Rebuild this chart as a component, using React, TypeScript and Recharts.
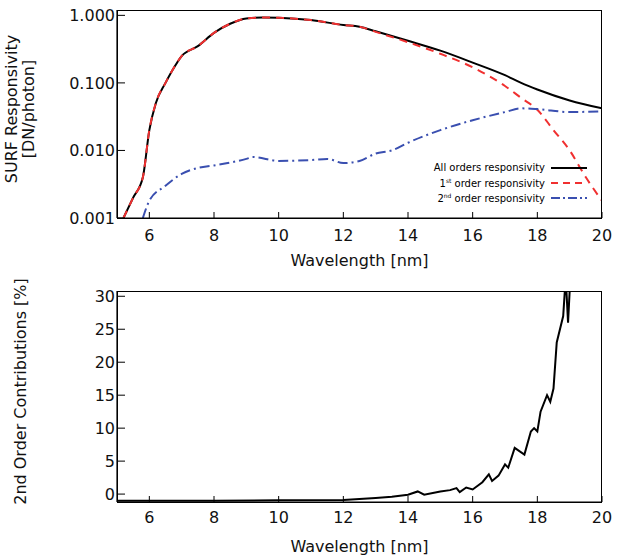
import React from 'react';
import { LineChart, Line, XAxis, YAxis } from 'recharts';

const allX = [5.2, 5.5, 5.8, 6, 6.2, 6.5, 6.7, 7, 7.5, 8, 8.5, 9, 9.5, 10, 11, 12, 12.5, 13, 14, 15, 16, 17, 17.5, 18, 19, 20];
const allY = [0.001, 0.002, 0.004, 0.02, 0.05, 0.1, 0.15, 0.25, 0.35, 0.55, 0.75, 0.9, 0.93, 0.92, 0.85, 0.72, 0.68, 0.58, 0.42, 0.3, 0.2, 0.13, 0.1, 0.08, 0.055, 0.042];
const firstX = [5.2, 5.5, 5.8, 6, 6.2, 6.5, 6.7, 7, 7.5, 8, 8.5, 9, 9.5, 10, 11, 12, 12.5, 13, 14, 15, 16, 17, 17.5, 18, 18.5, 19, 19.5, 20];
const firstY = [0.001, 0.002, 0.004, 0.02, 0.05, 0.1, 0.15, 0.25, 0.35, 0.55, 0.75, 0.9, 0.93, 0.92, 0.85, 0.72, 0.68, 0.57, 0.4, 0.27, 0.17, 0.09, 0.06, 0.04, 0.02, 0.01, 0.004, 0.0018];
const secondX = [5.8, 6, 6.5, 7, 7.5, 8, 9, 9.2, 10, 11, 11.5, 12, 12.5, 13, 13.5, 14, 15, 16, 17, 17.5, 18, 19, 20];
const secondY = [0.001, 0.0018, 0.003, 0.0045, 0.0055, 0.006, 0.0075, 0.008, 0.007, 0.0072, 0.0075, 0.0065, 0.007, 0.009, 0.01, 0.013, 0.02, 0.028, 0.037, 0.042, 0.041, 0.037, 0.038];
const contribX = [5, 8, 10, 12, 13, 13.5, 14, 14.3, 14.5, 15, 15.3, 15.5, 15.6, 15.8, 16, 16.3, 16.5, 16.6, 16.8, 17, 17.1, 17.3, 17.6, 17.8, 17.9, 18, 18.1, 18.3, 18.4, 18.5, 18.6, 18.8, 18.85, 18.9, 18.95, 19];
const contribY = [-1, -1, -0.95, -0.9, -0.6, -0.4, -0.1, 0.4, -0.1, 0.4, 0.6, 0.9, 0.3, 1, 0.7, 1.8, 3, 2, 2.8, 4.5, 4, 7, 6, 9.5, 10, 9.5, 12.5, 15, 14, 16, 23, 27, 30.8, 30.8, 26, 30.8];

const xTicks = [6, 8, 10, 12, 14, 16, 18, 20];
const logTicks = [0.001, 0.01, 0.1, 1];
const pctTicks = [0, 5, 10, 15, 20, 25, 30];

const toPts = (xs: number[], ys: number[]) => xs.map((x, i) => ({ x, y: ys[i] }));

const font = '"DejaVu Sans", sans-serif';
const tick = { fontSize: 16, fill: '#111', fontFamily: font };
const frame = (top: number, height: number) => (
  <div style={{ position: 'absolute', left: 117, top, width: 485, height, border: '1.2px solid #000', boxSizing: 'border-box', pointerEvents: 'none' }} />
);

export default function App() {
  const axisLine = { stroke: '#000', strokeWidth: 1.2 };
  return (
    <div style={{ position: 'absolute', left: 0, top: 0, width: 618, height: 556, background: '#fff', fontFamily: font }}>
      <LineChart width={618} height={280} margin={{ top: 10, right: 16, bottom: 12, left: 47 }}>
        <XAxis xAxisId="b" type="number" dataKey="x" domain={[5, 20]} ticks={xTicks} tick={tick} axisLine={axisLine} tickLine={{ stroke: '#000' }} tickSize={-6} tickMargin={18} height={50} allowDataOverflow
          label={{ value: 'Wavelength [nm]', position: 'insideBottom', offset: 2, style: { fontSize: 16, fill: '#111' } }} />
        <YAxis yAxisId="l" scale="log" type="number" domain={[0.001, 1.2]} ticks={logTicks} tickFormatter={(v) => v.toFixed(3)} tick={tick} axisLine={axisLine} tickLine={{ stroke: '#000' }} tickSize={-8} tickMargin={10} width={70} allowDataOverflow />
        <Line xAxisId="b" yAxisId="l" data={toPts(allX, allY)} dataKey="y" type="monotone" stroke="#000" strokeWidth={2} dot={false} isAnimationActive={false} />
        <Line xAxisId="b" yAxisId="l" data={toPts(firstX, firstY)} dataKey="y" type="monotone" stroke="#f03030" strokeWidth={2} strokeDasharray="8 6" dot={false} isAnimationActive={false} />
        <Line xAxisId="b" yAxisId="l" data={toPts(secondX, secondY)} dataKey="y" type="monotone" stroke="#3a4fb0" strokeWidth={2} strokeDasharray="10 4 2 4" dot={false} isAnimationActive={false} />
      </LineChart>
      {frame(10, 209)}
      <div style={{ position: 'absolute', left: 0, top: 0, width: 40, height: 218, display: 'flex', alignItems: 'center', justifyContent: 'center' }}>
        <div style={{ transform: 'rotate(-90deg)', whiteSpace: 'nowrap', fontSize: 16, textAlign: 'center', lineHeight: '17px', color: '#111' }}>
          SURF Responsivity<br />[DN/photon]
        </div>
      </div>
      <div style={{ position: 'absolute', left: 380, top: 160, fontSize: 10, lineHeight: '15px', color: '#000' }}>
        {[
          { t: <>All orders responsivity</>, c: '#000', d: '' },
          { t: <>1<sup style={{ fontSize: 6 }}>st</sup> order responsivity</>, c: '#f03030', d: '7 5' },
          { t: <>2<sup style={{ fontSize: 6 }}>nd</sup> order responsivity</>, c: '#3a4fb0', d: '9 3 2 3' },
        ].map((e, i) => (
          <div key={i} style={{ display: 'flex', justifyContent: 'flex-end', alignItems: 'center', height: 15 }}>
            <span style={{ width: 165, textAlign: 'right' }}>{e.t}</span>
            <svg width={40} height={8} style={{ marginLeft: 6 }}><line x1={0} y1={4} x2={36} y2={4} stroke={e.c} strokeWidth={2} strokeDasharray={e.d || undefined} /></svg>
          </div>
        ))}
      </div>
      <div style={{ position: 'absolute', left: 0, top: 280 }}>
        <LineChart width={618} height={276} margin={{ top: 11, right: 16, bottom: 8, left: 47 }} data={toPts(contribX, contribY)}>
          <XAxis xAxisId="b" type="number" dataKey="x" domain={[5, 20]} ticks={xTicks} tick={tick} axisLine={axisLine} tickLine={{ stroke: '#000' }} tickSize={-6} tickMargin={16} height={46}
            label={{ value: 'Wavelength [nm]', position: 'insideBottom', offset: -4, style: { fontSize: 16, fill: '#111' } }} />
          <YAxis yAxisId="l" type="number" domain={[-1.2, 30.8]} ticks={pctTicks} tick={tick} axisLine={axisLine} tickLine={{ stroke: '#000' }} tickSize={-8} tickMargin={10} width={70} allowDataOverflow />
          <Line xAxisId="b" yAxisId="l" dataKey="y" type="linear" stroke="#000" strokeWidth={2} dot={false} isAnimationActive={false} />
        </LineChart>
        {frame(11, 212)}
        <div style={{ position: 'absolute', left: 0, top: 0, width: 40, height: 222, display: 'flex', alignItems: 'center', justifyContent: 'center' }}>
          <div style={{ transform: 'rotate(-90deg)', whiteSpace: 'nowrap', fontSize: 16, color: '#111' }}>2nd Order Contributions [%]</div>
        </div>
      </div>
    </div>
  );
}
